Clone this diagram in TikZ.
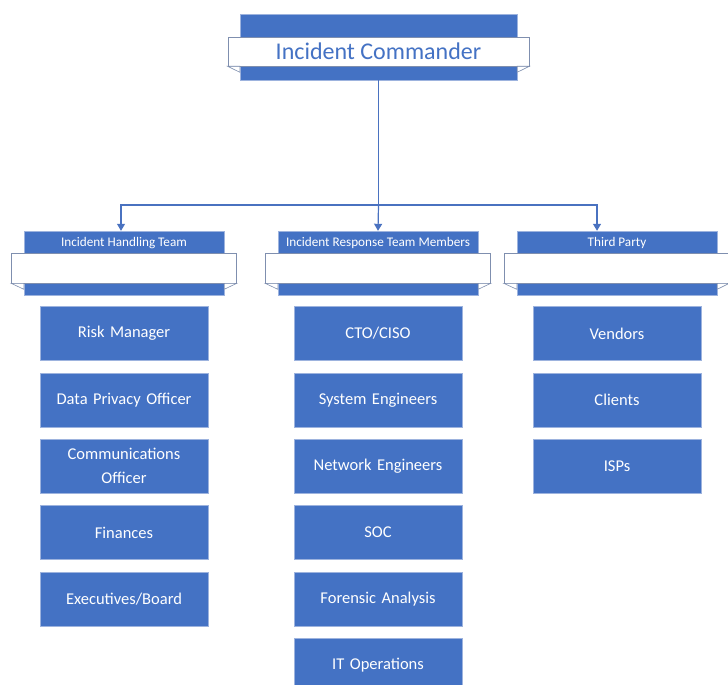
\documentclass[tikz,border=0pt]{standalone}
\usepackage{fontspec}
\setmainfont{Carlito}
\usetikzlibrary{
    calc,
    arrows.meta,
    positioning,
}
\definecolor{boxblue}{HTML}{4472C4}
\definecolor{boxline}{HTML}{9DB3DE}
\definecolor{bandline}{HTML}{7F8FAF}
\definecolor{linkblue}{HTML}{4A72C0}

\begin{document}
\begin{tikzpicture}[x=1pt, y=-1pt,
    back/.style={fill=boxblue, draw=boxline, inner sep=0pt},
    band/.style={fill=white, draw=bandline, line width=0.6pt, inner sep=0pt},
    fold/.style={fill=white, draw=bandline, line width=0.6pt},
    hdrtext/.style={text=white, font=\fontsize{13.2}{15}\selectfont, inner sep=0pt},
    item/.style={fill=boxblue, draw=boxline, text=white, minimum width=168pt,
        minimum height=54pt, inner sep=2pt, align=center, text width=160pt,
        font=\fontsize{16.5}{24}\selectfont},
    link/.style={draw=linkblue, line width=1.2pt},
    arrow/.style={link, -{Triangle[length=7pt, width=8pt]}}
    ]

        \useasboundingbox (0,0) rectangle (728,685);

        \node[back, minimum width=277pt, minimum height=66pt] (ic) at (378.5,47) {};
        \node[band, minimum width=301pt, minimum height=29pt, text=boxblue,
            font=\fontsize{24}{26}\selectfont] (ic-band) at (378.5,51.5) {Incident Commander};

        \node[back, minimum width=200pt, minimum height=64pt] (iht) at (124,263) {};
        \node[band, minimum width=225pt, minimum height=30pt] (iht-band) at (124,268) {};
        \node[hdrtext] at ([yshift=-12pt]iht.north) {Incident Handling Team};

        \node[back, minimum width=200pt, minimum height=64pt] (irt) at (378,263) {};
        \node[band, minimum width=225pt, minimum height=30pt] (irt-band) at (378,268) {};
        \node[hdrtext] at ([yshift=-12pt]irt.north) {Incident Response Team Members};

        \node[back, minimum width=200pt, minimum height=64pt] (tp) at (617,263) {};
        \node[band, minimum width=225pt, minimum height=30pt] (tp-band) at (616.5,268) {};
        \node[hdrtext] at ([yshift=-12pt]tp.north) {Third Party};

        \foreach \h in {ic,iht,irt,tp}{
            \draw[fold] (\h-band.south west) -- (\h.west |- \h-band.south) -- ++(0,6) -- cycle;
            \draw[fold] (\h-band.south east) -- (\h.east |- \h-band.south) -- ++(0,6) -- cycle;
        }

        \coordinate (split) at (378.5,205);
        \draw[link] (ic.south) -- (split);
        \draw[arrow] (split) -| ([xshift=-3pt]iht.north);
        \draw[arrow] (split) -- (irt.north);
        \draw[arrow] (split) -| ([xshift=-20pt]tp.north);

        \node[item, below=11pt of iht] (risk) {Risk Manager};
        \node[item, below=12pt of risk] (dpo) {Data Privacy Officer};
        \node[item, below=12pt of dpo] (comm) {Communications\\Officer};
        \node[item, below=12pt of comm] (fin) {Finances};
        \node[item, below=12pt of fin] (exec) {Executives/Board};

        \node[item, below=11pt of irt] (cto) {CTO/CISO};
        \node[item, below=12pt of cto] (syseng) {System Engineers};
        \node[item, below=12pt of syseng] (neteng) {Network Engineers};
        \node[item, below=12pt of neteng] (soc) {SOC};
        \node[item, below=12pt of soc] (forensic) {Forensic Analysis};
        \node[item, below=12pt of forensic] (itops) {IT Operations};

        \node[item, below=11pt of tp] (vendors) {Vendors};
        \node[item, below=12pt of vendors] (clients) {Clients};
        \node[item, below=12pt of clients] (isps) {ISPs};

    \end{tikzpicture}
\end{document}
